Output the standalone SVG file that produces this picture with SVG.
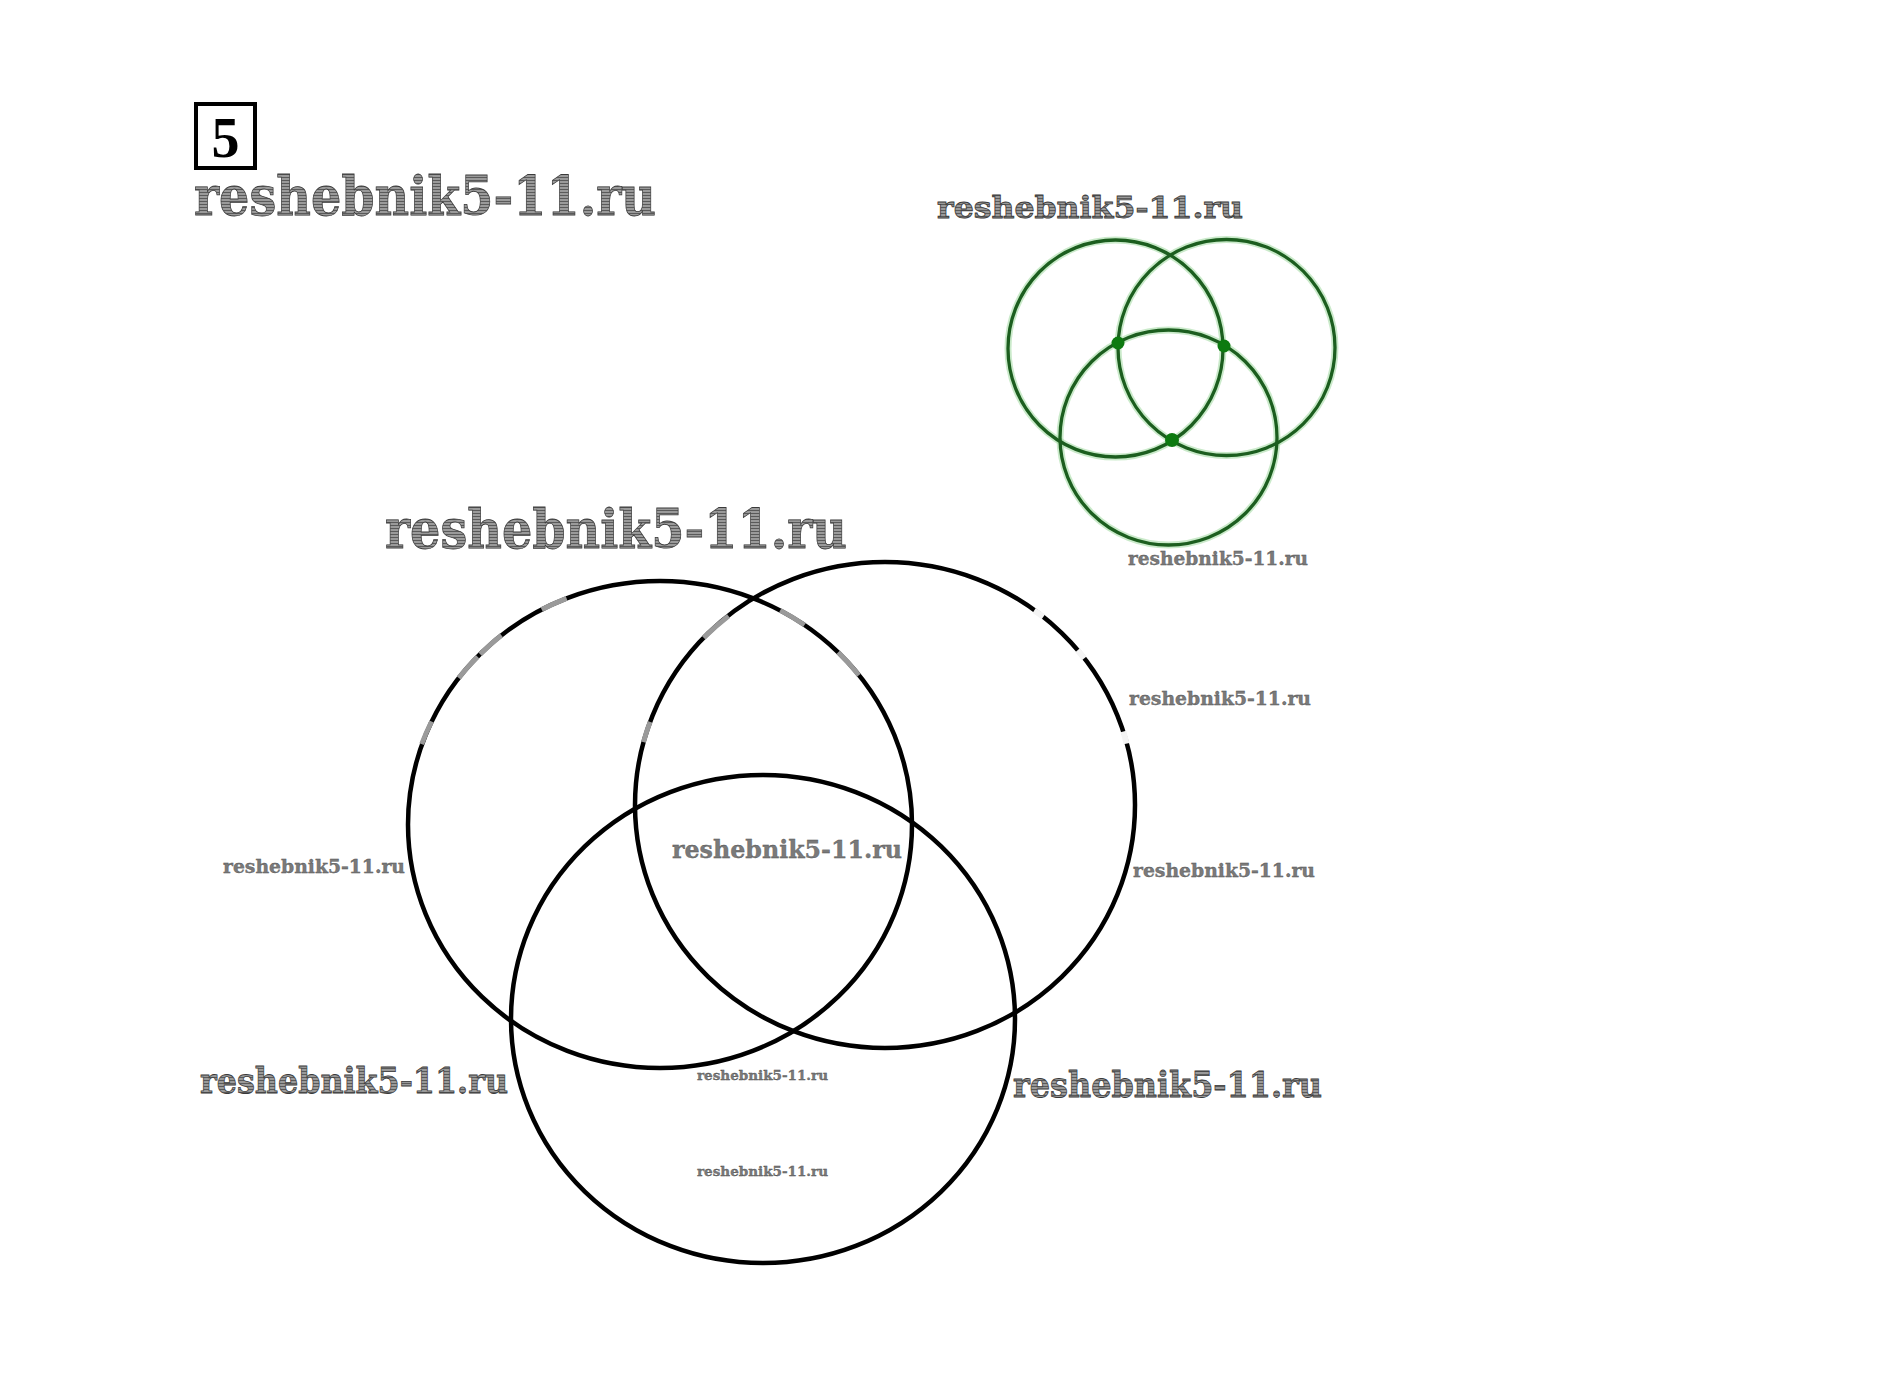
<svg xmlns="http://www.w3.org/2000/svg" width="1898" height="1378" viewBox="0 0 1898 1378">
<defs>
<pattern id="hatch" width="4" height="3" patternUnits="userSpaceOnUse">
<rect width="4" height="3" fill="#9a9a9a"/>
<rect width="4" height="1" fill="#5a5a5a"/>
</pattern>
<style>
.wm{font-family:"DejaVu Serif","Liberation Serif",serif;font-weight:bold;fill:url(#hatch);stroke:#3a3a3a;stroke-width:0.8}
.wms{font-family:"DejaVu Serif","Liberation Serif",serif;font-weight:bold;fill:#7a7a7a;stroke:#4a4a4a;stroke-width:0.3}
.big{fill:none;stroke:#000;stroke-width:4.5}
.grey{fill:none;stroke:#9a9a9a;stroke-width:5}
.gap{fill:none;stroke:#f4f4f4;stroke-width:6}
.gglow{fill:none;stroke:#9fd89f;stroke-width:7;opacity:0.55}
.gc{fill:none;stroke:#1c5e1f;stroke-width:3.3}
.dot{fill:#0d7a10}
</style>
</defs>
<rect width="1898" height="1378" fill="#ffffff"/>

<g id="number">
<rect x="196" y="104" width="59" height="64" fill="none" stroke="#000" stroke-width="4"/>
<text x="225.5" y="157" text-anchor="middle" font-family="Liberation Serif, serif" font-weight="bold" font-size="56" fill="#000">5</text>
</g>

<g id="green-figure">
<ellipse class="gglow" cx="1115.5" cy="348.5" rx="107.5" ry="108.5"/>
<ellipse class="gglow" cx="1226.5" cy="347.5" rx="108.5" ry="108"/>
<ellipse class="gglow" cx="1168.5" cy="437.5" rx="108.5" ry="107.5"/>
<ellipse class="gc" cx="1115.5" cy="348.5" rx="107.5" ry="108.5"/>
<ellipse class="gc" cx="1226.5" cy="347.5" rx="108.5" ry="108"/>
<ellipse class="gc" cx="1168.5" cy="437.5" rx="108.5" ry="107.5"/>
<circle class="dot" cx="1118" cy="343" r="6.5"/>
<circle class="dot" cx="1224" cy="346" r="6.5"/>
<circle class="dot" cx="1172" cy="440" r="7"/>
</g>

<g id="circle-left">
<ellipse class="big" cx="660" cy="824.5" rx="252" ry="243.5"/>
</g>
<g id="circle-right">
<ellipse class="big" cx="885" cy="805" rx="250" ry="243"/>
</g>
<g id="circle-bottom">
<ellipse class="big" cx="763" cy="1019" rx="252" ry="244"/>
</g>

<g id="watermark-artifacts">
<path class="grey" d="M421.7 744.1 A252 243.5 0 0 1 431.6 721.5"/>
<path class="grey" d="M458.7 677.9 A252 243.5 0 0 1 477.6 656.7"/>
<path class="grey" d="M480.2 654.2 A252 243.5 0 0 1 501.4 635.3"/>
<path class="grey" d="M541.7 609.5 A252 243.5 0 0 1 566.6 598.3"/>
<path class="grey" d="M780.2 610.4 A252 243.5 0 0 1 804.5 625.0"/>
<path class="grey" d="M838.2 652.3 A252 243.5 0 0 1 858.9 675.3"/>
<path class="grey" d="M643.5 742.1 A250 243 0 0 1 650.1 721.9"/>
<path class="grey" d="M703.7 637.8 A250 243 0 0 1 728.5 615.9"/>
<path class="gap" d="M1034.2 610.4 A250 243 0 0 1 1043.4 616.7"/>
<path class="gap" d="M1077.6 650.3 A250 243 0 0 1 1084.2 658.3"/>
<path class="gap" d="M1123.4 731.5 A250 243 0 0 1 1126.5 743.6"/>
</g>

<g id="watermarks">
<text class="wm" x="194" y="215" font-size="54" textLength="462" lengthAdjust="spacingAndGlyphs">reshebnik5-11.ru</text>
<text class="wm" x="937" y="218" font-size="30" textLength="306" lengthAdjust="spacingAndGlyphs">reshebnik5-11.ru</text>
<text class="wms" x="1128" y="565" font-size="18" textLength="180" lengthAdjust="spacingAndGlyphs">reshebnik5-11.ru</text>
<text class="wm" x="385" y="548" font-size="54" textLength="462" lengthAdjust="spacingAndGlyphs">reshebnik5-11.ru</text>
<text class="wms" x="1129" y="705" font-size="18" textLength="182" lengthAdjust="spacingAndGlyphs">reshebnik5-11.ru</text>
<text class="wms" x="672" y="858" font-size="25" textLength="230" lengthAdjust="spacingAndGlyphs">reshebnik5-11.ru</text>
<text class="wms" x="223" y="873" font-size="18" textLength="182" lengthAdjust="spacingAndGlyphs">reshebnik5-11.ru</text>
<text class="wms" x="1133" y="877" font-size="18" textLength="182" lengthAdjust="spacingAndGlyphs">reshebnik5-11.ru</text>
<text class="wm" x="200" y="1093" font-size="36" textLength="308" lengthAdjust="spacingAndGlyphs">reshebnik5-11.ru</text>
<text class="wm" x="1013" y="1097" font-size="36" textLength="309" lengthAdjust="spacingAndGlyphs">reshebnik5-11.ru</text>
<text class="wms" x="697" y="1080" font-size="13" textLength="131" lengthAdjust="spacingAndGlyphs">reshebnik5-11.ru</text>
<text class="wms" x="697" y="1176" font-size="13" textLength="131" lengthAdjust="spacingAndGlyphs">reshebnik5-11.ru</text>
</g>
</svg>
